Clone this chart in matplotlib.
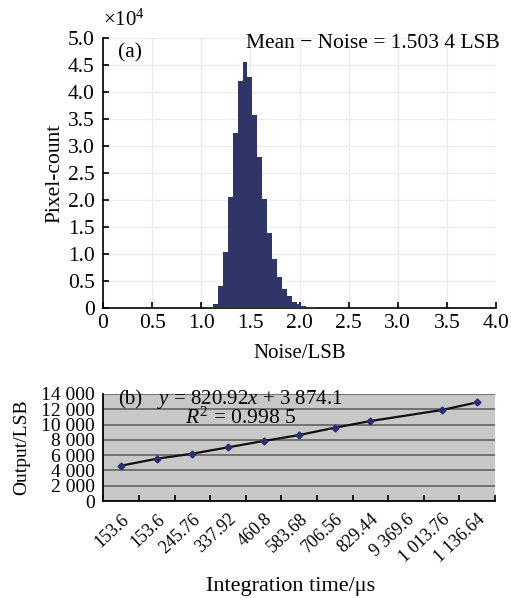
import numpy as np
import matplotlib
matplotlib.use("Agg")
import matplotlib.pyplot as plt
import matplotlib.transforms as mtransforms
from matplotlib.ticker import FuncFormatter

plt.rcParams['font.family'] = ['Liberation Serif', 'DejaVu Serif']
plt.rcParams['mathtext.fontset'] = 'custom'
plt.rcParams['mathtext.rm'] = 'Liberation Serif'
plt.rcParams['mathtext.it'] = 'Liberation Serif:italic'
plt.rcParams['font.size'] = 15

# ---- Panel (a): noise histogram ----
bin_centers = [1.095, 1.145, 1.195, 1.245, 1.295, 1.345, 1.395, 1.445, 1.495, 1.545,
               1.595, 1.645, 1.695, 1.745, 1.795, 1.845, 1.895, 1.945, 1.995, 2.045,
               2.095, 2.145]
pixel_counts = [100, 800, 4100, 10300, 20500, 32500, 42100, 45500, 42800, 35800,
                27900, 20100, 13800, 9000, 5800, 3600, 2300, 1200, 700, 400,
                200, 100]
bin_width = 0.05
a_xticks = [0, 0.5, 1.0, 1.5, 2.0, 2.5, 3.0, 3.5, 4.0]
a_xticklabels = ['0', '0.5', '1.0', '1.5', '2.0', '2.5', '3.0', '3.5', '4.0']
a_yticks = [0, 0.5, 1.0, 1.5, 2.0, 2.5, 3.0, 3.5, 4.0, 4.5, 5.0]
a_yticklabels = ['0', '0.5', '1.0', '1.5', '2.0', '2.5', '3.0', '3.5', '4.0', '4.5', '5.0']

# ---- Panel (b): output vs integration time ----
time_labels = ['153.6', '153.6', '245.76', '337.92', '460.8', '583.68', '706.56',
               '829.44', '9 369.6', '1 013.76', '1 136.64']
output_lsb = [4620, 5530, 6190, 7020, 7850, 8630, 9590, 10460, np.nan, 11900, 12910]
b_yticks = [0, 2000, 4000, 6000, 8000, 10000, 12000, 14000]

W, H = 511, 598
fig = plt.figure(figsize=(W / 100, H / 100), dpi=100)

def frac_rect(l, t, r, b):
    return [l / W, 1 - b / H, (r - l) / W, (b - t) / H]

# Panel a
ax = fig.add_axes(frac_rect(103, 38, 496, 308))
ax.bar(bin_centers, np.array(pixel_counts) / 1e4, width=bin_width,
       color='#2f3566', edgecolor='none', zorder=3)
ax.set_xlim(0, 4.0)
ax.set_ylim(0, 5.0)
ax.set_xticks(a_xticks, a_xticklabels)
ax.set_yticks(a_yticks, a_yticklabels)
ax.grid(True, color='#ececec', linewidth=1.0, zorder=0)
for s in ['top', 'right']:
    ax.spines[s].set_visible(False)
for s in ['left', 'bottom']:
    ax.spines[s].set_linewidth(1.2)
ax.tick_params(direction='in', length=4, width=1.2, labelsize=15.5)
ax.tick_params(axis='x', pad=4)
ax.tick_params(axis='y', pad=6)
ax.text(0.0, 1.067, r'$\times$10$^4$', transform=ax.transAxes, ha='left', va='center', fontsize=15)
ax.text(0.038, 0.944, '(a)', transform=ax.transAxes, ha='left', va='center', fontsize=15.5)
ax.text(1.01, 0.981, 'Mean \u2212 Noise = 1.503 4 LSB', transform=ax.transAxes,
        ha='right', va='center', fontsize=15.5)
fig.text(55 / W, 1 - 173 / H, 'Pixel-count', rotation=90, ha='center', va='center', fontsize=15.5)
fig.text(300 / W, 1 - 353 / H, 'Noise/LSB', ha='center', va='center', fontsize=15)

# Panel b
bx = fig.add_axes(frac_rect(103.3, 394, 495, 501))
bx.set_facecolor('#c8c8c8')
cats = np.arange(1, len(time_labels) + 1)
vals = np.array(output_lsb, dtype=float)
ok = np.isfinite(vals)
bx.plot(cats[ok], vals[ok], color='#111111', linewidth=1.6, zorder=3)
bx.plot(cats[ok], vals[ok], linestyle='none', marker='D', markersize=3.5,
        color='#2a2f70', zorder=4)
bx.set_xlim(0.5, len(time_labels) + 0.5)
bx.set_ylim(0, 14000)
bx.set_yticks(b_yticks)
bx.yaxis.set_major_formatter(FuncFormatter(lambda v, p: f'{int(v):,}'.replace(',', ' ')))
bx.set_xticks(cats)
bx.set_xticklabels(time_labels, rotation=43, ha='right', rotation_mode='anchor', fontsize=12.8)
offset = mtransforms.ScaledTranslation(6 / 100, 0, fig.dpi_scale_trans)
for lbl in bx.get_xticklabels():
    lbl.set_transform(lbl.get_transform() + offset)
bx.set_xticks(np.arange(0.5, len(time_labels) + 1.0, 1.0), minor=True)
bx.tick_params(axis='x', which='major', length=0, pad=7)
bx.tick_params(axis='x', which='minor', direction='in', length=4, width=1.2)
bx.tick_params(axis='y', length=0, pad=6, labelsize=14)
bx.grid(True, axis='y', color='#5a5a5a', linewidth=1.1, zorder=1)
for s in ['top', 'right']:
    bx.spines[s].set_visible(False)
for s in ['left', 'bottom']:
    bx.spines[s].set_linewidth(1.3)
bx.text(0.0375, 0.944, '(b)', transform=bx.transAxes, ha='left', va='center', fontsize=15)
bx.text(0.136, 0.944, r'$y$ = 820.92$x$ + 3 874.1', transform=bx.transAxes,
        ha='left', va='center', fontsize=15)
bx.text(0.2085, 0.776, r'$R^2$ = 0.998 5', transform=bx.transAxes,
        ha='left', va='center', fontsize=15.5)
fig.text(22 / W, 1 - 447 / H, 'Output/LSB', rotation=90, ha='center', va='center', fontsize=14)
fig.text(291 / W, 1 - 586 / H, 'Integration time/\u03bcs', ha='center', va='center', fontsize=16)

fig.savefig('out.png', dpi=100)
